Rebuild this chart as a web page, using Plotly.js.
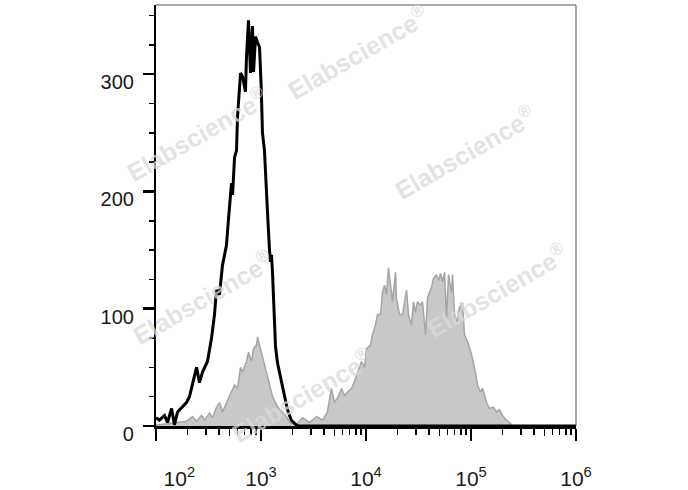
<!DOCTYPE html>
<html>
<head>
<meta charset="utf-8">
<script src="https://cdn.plot.ly/plotly-3.0.1.min.js"></script>
<style>
  html, body { margin: 0; padding: 0; background: #fff; }
  #chart { width: 688px; height: 490px; }
</style>
</head>
<body>
<div id="chart"></div>
<script>
// ── data (x given as decade exponent, log10 of intensity) ───────────────────

// black open histogram (control)
const ctrlExp = [
  2.0, 2.033, 2.081, 2.11, 2.148, 2.176, 2.205, 2.252, 2.29, 2.319, 2.348, 2.386,
  2.414, 2.443, 2.49, 2.529, 2.557, 2.576, 2.605, 2.633, 2.671, 2.681, 2.69, 2.719,
  2.729, 2.748, 2.767, 2.776, 2.805, 2.824, 2.852, 2.862, 2.881, 2.9, 2.919, 2.929,
  2.948, 2.967, 2.986, 3.002, 3.014, 3.033, 3.052, 3.062, 3.081, 3.09, 3.1, 3.11,
  3.138, 3.157, 3.192, 3.224, 3.252, 3.288, 3.335, 3.36, 6.0
];
const ctrlCount = [
  7, 5, 9, 3, 15, 1, 12, 16, 20, 25, 35, 50,
  37, 46, 55, 75, 95, 116, 112, 137, 154, 163, 176, 207,
  197, 229, 235, 263, 301, 298, 285, 315, 346, 301, 341, 302,
  332, 327, 323, 289, 250, 235, 190, 182, 150, 140, 146, 130,
  68, 54, 39, 25, 14, 5, 1, 0, 0
];

// grey filled histogram (stained)
const stainExp = [
  2.0, 2.033, 2.195, 2.29, 2.348, 2.386, 2.433, 2.462, 2.51, 2.538, 2.576, 2.605,
  2.633, 2.671, 2.719, 2.748, 2.776, 2.805, 2.824, 2.862, 2.881, 2.91, 2.929, 2.957,
  2.967, 2.986, 3.014, 3.052, 3.081, 3.11, 3.148, 3.176, 3.205, 3.243, 3.271, 3.338,
  3.395, 3.462, 3.529, 3.586, 3.633, 3.671, 3.7, 3.729, 3.767, 3.795, 3.824, 3.862,
  3.89, 3.919, 3.957, 3.986, 4.005, 4.043, 4.062, 4.09, 4.11, 4.138, 4.157, 4.176,
  4.195, 4.214, 4.233, 4.252, 4.281, 4.29, 4.319, 4.348, 4.386, 4.405, 4.433, 4.452,
  4.471, 4.49, 4.519, 4.538, 4.567, 4.586, 4.605, 4.624, 4.643, 4.671, 4.69, 4.71,
  4.729, 4.748, 4.767, 4.786, 4.814, 4.824, 4.843, 4.862, 4.89, 4.919, 4.938, 4.967,
  5.005, 5.033, 5.062, 5.09, 5.11, 5.148, 5.176, 5.214, 5.243, 5.271, 5.3, 5.338,
  5.367, 5.395, 6.0
];
const stainCount = [
  1, 1, 3, 4, 8, 4, 9, 5, 11, 7, 16, 20,
  12, 20, 29, 35, 32, 50, 46, 55, 63, 55, 66, 69,
  76, 69, 61, 46, 35, 25, 18, 14, 12, 8, 3, 1,
  7, 3, 8, 5, 12, 32, 20, 24, 32, 26, 29, 32,
  38, 46, 55, 50, 66, 69, 78, 86, 95, 95, 114, 120,
  112, 135, 118, 106, 131, 109, 95, 95, 116, 95, 86, 106,
  97, 106, 103, 106, 78, 109, 114, 118, 126, 129, 124, 130,
  123, 131, 92, 129, 114, 129, 95, 89, 101, 105, 78, 72,
  61, 50, 35, 29, 32, 20, 15, 16, 12, 14, 9, 5,
  3, 0, 0
];

// axis ticks
const xTickVals = [1e2, 1e3, 1e4, 1e5, 1e6];
const xTickPow = ['2', '3', '4', '5', '6'];
const yTickVals = [0, 100, 200, 300];
const yTickLabels = ['0', '100', '200', '300'];

// ── helpers ─────────────────────────────────────────────────────────────────

function toLin(exps) {
  return exps.map(function (e) { return Math.pow(10, e); });
}

// 10 with a raised exponent; the first label sits right of its tick
const xTickText = xTickPow.map(function (p, i) {
  const pad = i === 0 ? '\u00a0'.repeat(8) : '';
  return pad + '10<sup>' + p + '</sup>';
});
// a trailing space keeps the y labels clear of the ticks
const yTickText = yTickLabels.map(function (t) { return t + '\u00a0'; });

// minor ticks 2..9 per decade, the 5s go on their own (longer) set
const minorVals = [];
const midVals = [];
for (let d = 2; d < 6; d++) {
  for (let m = 2; m <= 9; m++) {
    if (m === 5) midVals.push(m * Math.pow(10, d));
    else minorVals.push(m * Math.pow(10, d));
  }
}

const FONT = 'Arial, "Liberation Sans", Helvetica, sans-serif';

// ── traces ──────────────────────────────────────────────────────────────────

const traces = [
  {
    x: toLin(stainExp), y: stainCount,
    type: 'scatter', mode: 'lines',
    line: { color: '#a5a5a5', width: 1.5 },
    fill: 'tozeroy', fillcolor: '#c8c8c8',
    hoverinfo: 'skip', showlegend: false,
  },
  {
    x: toLin(ctrlExp), y: ctrlCount,
    type: 'scatter', mode: 'lines',
    line: { color: '#000', width: 3 },
    hoverinfo: 'skip', showlegend: false,
  },
  // carries the overlay axis with the 5x10^n ticks
  { x: [], y: [], xaxis: 'x2', type: 'scatter', mode: 'lines', showlegend: false, hoverinfo: 'skip' },
];

// ── watermark ───────────────────────────────────────────────────────────────

const marks = [
  [197, 134], [358, 52], [465, 152], [497, 290], [203, 297], [302, 395],
].map(function (p) {
  return {
    xref: 'paper', yref: 'paper', xanchor: 'center', yanchor: 'middle',
    x: (p[0] - 156) / 420, y: (426 - p[1]) / 421,
    text: 'Elabscience<sup>®</sup>', showarrow: false, textangle: -30,
    font: { family: FONT, size: 25, color: 'rgba(218,218,218,0.75)', weight: 'bold' },
  };
});

// ── layout ──────────────────────────────────────────────────────────────────

const layout = {
  width: 688, height: 490,
  margin: { l: 156, r: 112, t: 5, b: 64, pad: 0 },
  paper_bgcolor: '#fff', plot_bgcolor: '#fff',
  font: { family: FONT, color: '#1a1a1a' },
  showlegend: false,
  xaxis: {
    type: 'log', range: [2, 6],
    showgrid: false, zeroline: false,
    showline: true, linecolor: '#000', linewidth: 2.5,
    ticks: 'outside', ticklen: 12, tickwidth: 2.5, tickcolor: '#000',
    tickmode: 'array', tickvals: xTickVals, ticktext: xTickText,
    tickfont: { size: 21, color: '#1a1a1a' },
    ticklabelstandoff: 20,
    minor: { tickmode: 'array', tickvals: minorVals, ticks: 'outside', ticklen: 6, tickwidth: 1.5, tickcolor: '#000', showgrid: false },
  },
  xaxis2: {
    type: 'log', range: [2, 6], overlaying: 'x', anchor: 'y', side: 'bottom',
    showgrid: false, zeroline: false, showline: false,
    ticks: 'outside', ticklen: 9, tickwidth: 1.5, tickcolor: '#000',
    tickmode: 'array', tickvals: midVals, showticklabels: false,
  },
  yaxis: {
    range: [0, 359],
    showgrid: false, zeroline: false,
    showline: true, linecolor: '#000', linewidth: 2.5,
    ticks: 'outside', ticklen: 11, tickwidth: 2.5, tickcolor: '#000',
    tickmode: 'array', tickvals: yTickVals, ticktext: yTickText,
    tickfont: { size: 20, color: '#1a1a1a' },
    ticklabelstandoff: -1, ticklabelshift: 8,
    minor: { dtick: 25, ticks: 'outside', ticklen: 5, tickwidth: 1.5, tickcolor: '#000', showgrid: false },
  },
  // thin top/right frame
  shapes: [
    { type: 'line', xref: 'paper', yref: 'paper', x0: 0, x1: 1, y0: 1, y1: 1, line: { color: '#555', width: 1 } },
    { type: 'line', xref: 'paper', yref: 'paper', x0: 1, x1: 1, y0: 0, y1: 1, line: { color: '#555', width: 1 } },
  ],
  annotations: marks,
};

Plotly.newPlot('chart', traces, layout, { staticPlot: true, displayModeBar: false });
</script>
</body>
</html>
